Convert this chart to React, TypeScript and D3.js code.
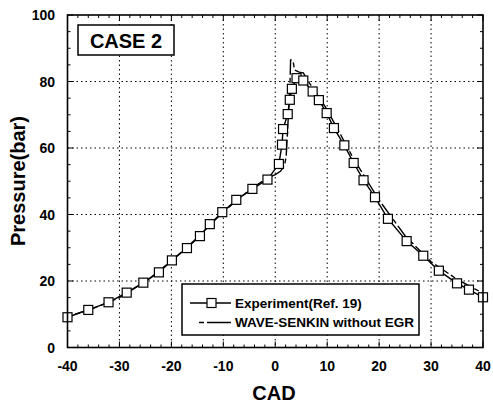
import React from "react";
import * as d3 from "d3";

const expCAD = [-40.0, -36.0, -32.1, -28.6, -25.4, -22.4, -19.9, -17.0, -14.5, -12.6, -10.2, -7.5, -4.4, -1.5, 0.7, 1.3, 1.5, 2.4, 2.8, 3.2, 4.1, 5.4, 7.2, 8.4, 9.9, 11.3, 13.3, 15.1, 17.0, 19.2, 21.7, 25.3, 28.5, 31.5, 35.0, 37.3, 40.0];
const expP = [9.1, 11.3, 13.6, 16.5, 19.5, 22.6, 26.2, 29.9, 33.5, 37.1, 40.7, 44.4, 47.7, 50.5, 55.2, 61.0, 65.7, 70.2, 74.5, 77.8, 81.0, 80.3, 77.0, 74.4, 70.5, 66.0, 60.8, 55.5, 50.3, 45.2, 38.7, 32.0, 27.6, 23.1, 19.3, 17.4, 15.1];

const simCAD = [-40, -35, -30, -25, -20, -15, -10, -5, -2, 0, 1, 1.8, 2.1, 2.3, 2.5, 2.7, 2.85, 2.9, 2.95, 3.2, 3.5, 3.7, 4.6, 5.4, 6.6, 10, 15, 20, 25, 30, 35, 40];
const simP = [9.3, 11.8, 15.0, 19.8, 26.0, 33.0, 40.8, 47.3, 50.5, 52.0, 53.0, 54.8, 57.5, 63.0, 69.0, 75.0, 80.0, 83.0, 86.5, 86.5, 85.5, 83.5, 82.8, 82.6, 79.5, 71.5, 57.0, 44.3, 33.6, 25.8, 20.5, 16.3];

const xTicks = [-40, -30, -20, -10, 0, 10, 20, 30, 40];
const yTicks = [0, 20, 40, 60, 80, 100];
const legendLabels = ["Experiment(Ref. 19)", "WAVE-SENKIN without EGR"];
const caseLabel = "CASE 2";
const xLabel = "CAD";
const yLabel = "Pressure(bar)";

const L = 67.5, R = 483, T = 15, B = 347.5;
const FONT = "'Liberation Sans', Arial, Helvetica, sans-serif";

export default function App() {
  const x = d3.scaleLinear().domain([-40, 40]).range([L, R]);
  const y = d3.scaleLinear().domain([0, 100]).range([B, T]);
  const xMinor = d3.range(-40, 40.01, 2);
  const yMinor = d3.range(0, 100.01, 5);
  const expData = expCAD.map((c, i) => [c, expP[i]] as [number, number]);
  const simData = simCAD.map((c, i) => [c, simP[i]] as [number, number]);
  const line = d3.line<[number, number]>().x(d => x(d[0])).y(d => y(d[1]));
  const sq = 9;

  return (
    <svg width={493} height={407} style={{ position: "absolute", left: 0, top: 0, background: "#fff" }} fontFamily={FONT}>
      <rect x={0} y={0} width={493} height={407} fill="#fff" />
      {/* grid */}
      {xTicks.filter(t => t > -40 && t < 40).map(t => (
        <line key={"gx" + t} x1={x(t)} x2={x(t)} y1={T} y2={B} stroke="#000" strokeWidth={1} strokeDasharray="1.5,3" />
      ))}
      {yTicks.filter(t => t > 0 && t < 100).map(t => (
        <line key={"gy" + t} x1={L} x2={R} y1={y(t)} y2={y(t)} stroke="#000" strokeWidth={1} strokeDasharray="1.5,3" />
      ))}
      {/* minor / major ticks */}
      {xMinor.map(t => {
        const major = Math.abs(t % 10) < 1e-6;
        const len = major ? 6 : 3;
        return (
          <g key={"tx" + t}>
            <line x1={x(t)} x2={x(t)} y1={B} y2={B - len} stroke="#000" strokeWidth={1} />
            <line x1={x(t)} x2={x(t)} y1={T} y2={T + len} stroke="#000" strokeWidth={1} />
          </g>
        );
      })}
      {yMinor.map(t => {
        const major = Math.abs(t % 20) < 1e-6;
        const len = major ? 6 : 3;
        return (
          <g key={"ty" + t}>
            <line x1={L} x2={L + len} y1={y(t)} y2={y(t)} stroke="#000" strokeWidth={1} />
            <line x1={R} x2={R - len} y1={y(t)} y2={y(t)} stroke="#000" strokeWidth={1} />
          </g>
        );
      })}
      {/* simulation dashed line */}
      <path d={line(simData) || ""} fill="none" stroke="#000" strokeWidth={1.4} strokeDasharray="5,3,16,3" />
      {/* experiment line */}
      <path d={line(expData) || ""} fill="none" stroke="#000" strokeWidth={1.4} />
      {expData.map((d, i) => (
        <rect key={"m" + i} x={x(d[0]) - sq / 2} y={y(d[1]) - sq / 2} width={sq} height={sq} fill="#fff" stroke="#000" strokeWidth={1.2} />
      ))}
      {/* frame */}
      <rect x={L} y={T} width={R - L} height={B - T} fill="none" stroke="#000" strokeWidth={1.6} />
      {/* tick labels */}
      {xTicks.map(t => (
        <text key={"lx" + t} x={x(t)} y={366} textAnchor="middle" dominantBaseline="central" fontSize={14} fontWeight="bold">{t}</text>
      ))}
      {yTicks.map(t => (
        <text key={"ly" + t} x={55} y={y(t)} textAnchor="end" dominantBaseline="central" fontSize={14} fontWeight="bold">{t}</text>
      ))}
      {/* axis titles */}
      <text x={274} y={393} textAnchor="middle" dominantBaseline="central" fontSize={20} fontWeight="bold">{xLabel}</text>
      <text transform="translate(24.5,181) rotate(-90)" textAnchor="middle" fontSize={20} fontWeight="bold">{yLabel}</text>
      {/* case box */}
      <rect x={78} y={25} width={96} height={30} fill="#fff" stroke="#000" strokeWidth={1.5} />
      <text x={126} y={40.5} textAnchor="middle" dominantBaseline="central" fontSize={20} fontWeight="bold">{caseLabel}</text>
      {/* legend */}
      <rect x={182} y={284} width={237} height={51} fill="#fff" stroke="#000" strokeWidth={1.5} />
      <line x1={190} x2={231} y1={303} y2={303} stroke="#000" strokeWidth={1.3} />
      <rect x={211.5 - sq / 2} y={303 - sq / 2} width={sq} height={sq} fill="#fff" stroke="#000" strokeWidth={1.2} />
      <text x={235} y={303} dominantBaseline="central" fontSize={13.5} fontWeight="bold">{legendLabels[0]}</text>
      <line x1={199} x2={231} y1={322.5} y2={322.5} stroke="#000" strokeWidth={1.3} strokeDasharray="5,3,24,3" />
      <text x={235} y={322.5} dominantBaseline="central" fontSize={13.5} fontWeight="bold">{legendLabels[1]}</text>
    </svg>
  );
}
